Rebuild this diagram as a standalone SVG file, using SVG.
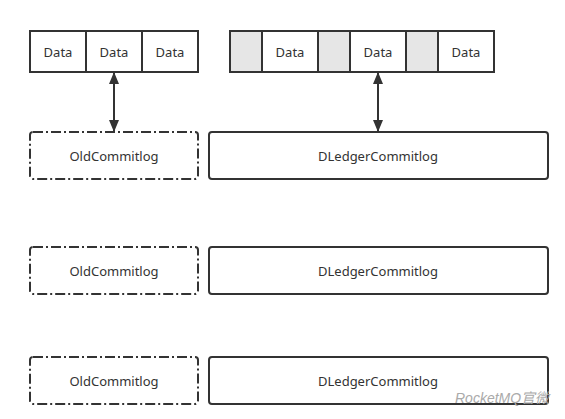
<svg xmlns="http://www.w3.org/2000/svg" width="565" height="419" viewBox="0 0 565 419">
<defs>
<style>
.cell{fill:#ffffff;stroke:#333333;stroke-width:2}
.gray{fill:#e6e6e6;stroke:#333333;stroke-width:2}
.old{fill:#ffffff;stroke:#333333;stroke-width:2;stroke-dasharray:10 3 2 3}
.led{fill:#ffffff;stroke:#333333;stroke-width:2}
text{font-family:"Noto Sans","Open Sans","DejaVu Sans",sans-serif;font-size:13px;fill:#333333;text-anchor:middle;dominant-baseline:central}
.conn{stroke:#333333;stroke-width:2;fill:none}
.wm{font-family:"Liberation Sans","Noto Sans CJK SC",sans-serif;font-size:14px;fill:#aaaaaa;text-anchor:start;font-style:italic}
</style>
<marker id="ah" viewBox="0 0 12 10" refX="11" refY="5" markerWidth="12" markerHeight="10" orient="auto-start-reverse" markerUnits="userSpaceOnUse">
<path d="M0,0 L12,5 L0,10 z" fill="#333333"/>
</marker>
</defs>
<rect width="565" height="419" fill="#ffffff"/>
<g id="data-left">
<rect class="cell" x="30" y="31" width="56" height="41"/>
<rect class="cell" x="86" y="31" width="56" height="41"/>
<rect class="cell" x="142" y="31" width="56" height="41"/>
<text x="58" y="51.5">Data</text>
<text x="114" y="51.5">Data</text>
<text x="170" y="51.5">Data</text>
</g>
<g id="data-right">
<rect class="gray" x="230" y="31" width="32" height="41"/>
<rect class="cell" x="262" y="31" width="56" height="41"/>
<rect class="gray" x="318" y="31" width="32" height="41"/>
<rect class="cell" x="350" y="31" width="56" height="41"/>
<rect class="gray" x="406" y="31" width="32" height="41"/>
<rect class="cell" x="438" y="31" width="56" height="41"/>
<text x="290" y="51.5">Data</text>
<text x="378" y="51.5">Data</text>
<text x="466" y="51.5">Data</text>
</g>
<g id="old1"><rect class="old" x="30" y="132" width="168" height="47" rx="3"/><text x="114" y="155.5">OldCommitlog</text></g>
<g id="led1"><rect class="led" x="209" y="132" width="339" height="47" rx="3"/><text x="378" y="155.5">DLedgerCommitlog</text></g>
<g id="old2"><rect class="old" x="30" y="247" width="168" height="47" rx="3"/><text x="114" y="270.5">OldCommitlog</text></g>
<g id="led2"><rect class="led" x="209" y="247" width="339" height="47" rx="3"/><text x="378" y="270.5">DLedgerCommitlog</text></g>
<g id="old3"><rect class="old" x="30" y="357" width="168" height="47" rx="3"/><text x="114" y="380.5">OldCommitlog</text></g>
<g id="led3"><rect class="led" x="209" y="357" width="339" height="47" rx="3"/><text x="378" y="380.5">DLedgerCommitlog</text></g>
<g id="connectors">
<line class="conn" x1="114" y1="73" x2="114" y2="131" marker-start="url(#ah)" marker-end="url(#ah)"/>
<line class="conn" x1="378" y1="73" x2="378" y2="131" marker-start="url(#ah)" marker-end="url(#ah)"/>
</g>
<text class="wm" x="455" y="398" dominant-baseline="auto">RocketMQ官微</text>
</svg>
